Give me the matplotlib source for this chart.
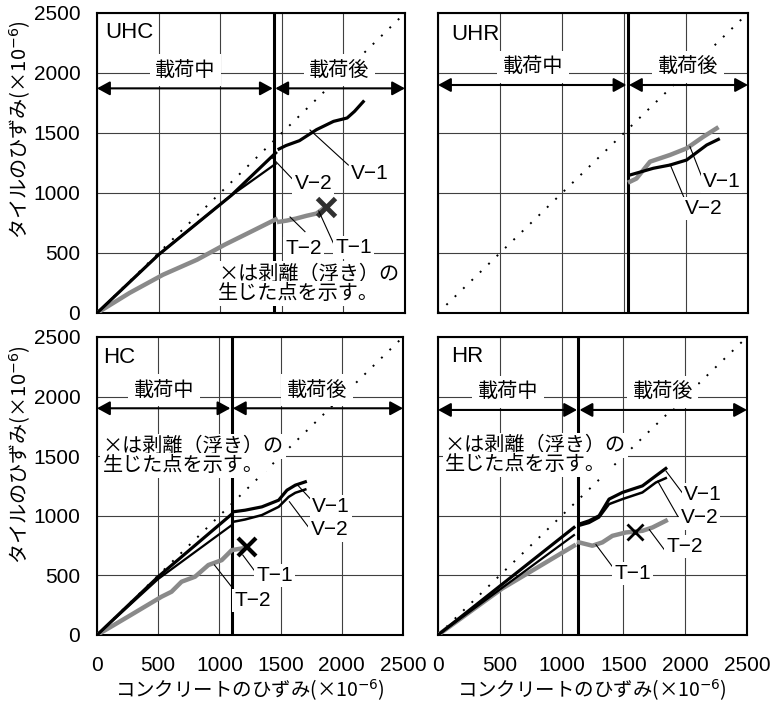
import matplotlib
matplotlib.use("Agg")
import matplotlib.pyplot as plt

plt.rcParams['font.family'] = ['Noto Sans CJK JP', 'DejaVu Sans']
plt.rcParams['mathtext.fontset'] = 'dejavusans'
LATIN = ['Liberation Sans', 'DejaVu Sans']

TICKS = [0, 500, 1000, 1500, 2000, 2500]
NOTE1 = "×は剥離（浮き）の"
NOTE2 = "生じた点を示す。"

# --- UHC ---
uhc_v1_load_x = [0, 500, 1090, 1450]
uhc_v1_load_y = [0, 486, 980, 1334]
uhc_v2_load_x = [0, 500, 1090, 1200, 1450]
uhc_v2_load_y = [0, 486, 980, 1060, 1243]
uhc_v1_post_x = [1478, 1533, 1643, 1782, 1920, 2030, 2090, 2161]
uhc_v1_post_y = [1367, 1395, 1436, 1528, 1597, 1625, 1680, 1761]
uhc_t_load_x = [0, 264, 536, 812, 1036, 1229, 1450]
uhc_t_load_y = [0, 167, 319, 444, 569, 667, 780]
uhc_t_post_x = [1478, 1540, 1616, 1700, 1782, 1837]
uhc_t_post_y = [760, 770, 787, 810, 829, 870]
uhc_peel = (1860, 885)

# --- UHR ---
uhr_v1_x = [1548, 1600, 1710, 1871, 2005, 2140, 2247]
uhr_v1_y = [1094, 1120, 1261, 1317, 1372, 1469, 1539]
uhr_v2_x = [1548, 1736, 1871, 2005, 2167, 2261]
uhr_v2_y = [1150, 1206, 1233, 1275, 1400, 1447]

# --- HC ---
hc_v1_load_x = [0, 500, 1101]
hc_v1_load_y = [0, 489, 1014]
hc_v2_load_x = [0, 500, 1101]
hc_v2_load_y = [0, 470, 922]
hc_v1_post_x = [1115, 1210, 1347, 1484, 1552, 1620, 1702]
hc_v1_post_y = [1034, 1047, 1075, 1131, 1215, 1257, 1285]
hc_v2_post_x = [1115, 1210, 1347, 1484, 1566, 1620, 1702]
hc_v2_post_y = [950, 969, 1006, 1075, 1159, 1193, 1221]
hc_t_x = [0, 254, 527, 609, 691, 801, 910, 1019, 1101, 1183]
hc_t_y = [0, 154, 321, 363, 447, 489, 587, 628, 712, 726]
hc_peel = (1224, 740)

# --- HR ---
hr_v1_load_x = [0, 1100]
hr_v1_load_y = [0, 902]
hr_v2_load_x = [0, 1100]
hr_v2_load_y = [0, 838]
hr_t_load_x = [0, 519, 1100]
hr_t_load_y = [0, 390, 749]
hr_v1_post_x = [1141, 1222, 1303, 1384, 1492, 1654, 1762, 1843]
hr_v1_post_y = [930, 958, 1000, 1140, 1196, 1251, 1335, 1397]
hr_v2_post_x = [1141, 1222, 1303, 1384, 1492, 1654, 1762, 1843]
hr_v2_post_y = [916, 940, 986, 1098, 1140, 1196, 1279, 1316]
hr_t_post_x = [1141, 1249, 1330, 1411, 1519, 1654, 1735, 1843]
hr_t_post_y = [777, 749, 777, 832, 860, 874, 902, 958]
hr_peel = (1592, 866)

GRAY = '#8a8a8a'
BOX = dict(facecolor='white', edgecolor='none', pad=1.5)


def frame(ax, name, boundary, arrow_y, text_y, name_xy):
    ax.set_xlim(0, 2500)
    ax.set_ylim(0, 2500)
    ax.set_xticks(TICKS)
    ax.set_yticks(TICKS)
    ax.grid(True, color='#404040', lw=0.8)
    ax.set_axisbelow(True)
    for s in ax.spines.values():
        s.set_linewidth(1.5)
    ax.tick_params(length=0, labelsize=15)
    ax.tick_params(axis='x', pad=15)
    ax.tick_params(axis='y', pad=12)
    for lbl in ax.get_xticklabels() + ax.get_yticklabels():
        lbl.set_fontfamily(LATIN)
    # diagonal y = x
    ax.plot([0, 2500], [0, 2500], color='black', lw=1.4, ls=(0, (1, 5)), zorder=2)
    ax.axvline(boundary, color='black', lw=2.2, zorder=3)
    arr = dict(arrowstyle='<|-|>,head_length=0.55,head_width=0.3', color='black',
               lw=1.5, shrinkA=0, shrinkB=0, mutation_scale=14)
    ax.annotate('', xy=(0, arrow_y), xytext=(boundary - 10, arrow_y), arrowprops=arr, zorder=4)
    ax.annotate('', xy=(boundary + 10, arrow_y), xytext=(2500, arrow_y), arrowprops=arr, zorder=4)
    ax.text(boundary / 2, text_y, '載荷中', ha='center', va='center', fontsize=14.5,
            bbox=dict(facecolor='white', edgecolor='none', pad=4), zorder=5)
    ax.text((boundary + 2500) / 2, text_y, '載荷後', ha='center', va='center', fontsize=14.5,
            bbox=dict(facecolor='white', edgecolor='none', pad=4), zorder=5)
    ax.text(name_xy[0], name_xy[1], name, transform=ax.transAxes, ha='left', va='center',
            fontsize=16, family=LATIN, zorder=5)


def tag(ax, label, xy, start, end):
    ax.plot([start[0], end[0]], [start[1], end[1]], color='black', lw=0.8, zorder=6)
    ax.text(xy[0], xy[1], label, ha='center', va='center', fontsize=15, family=LATIN,
            bbox=BOX, zorder=7)


def note(ax, x, y1, y2):
    ax.text(x, y1, NOTE1, ha='left', va='center', fontsize=14.5, bbox=BOX, zorder=5)
    ax.text(x, y2, NOTE2, ha='left', va='center', fontsize=14.5, bbox=BOX, zorder=5)


fig = plt.figure(figsize=(7.71, 7.08), dpi=100)
W, H = 771, 708
ax_uhc = fig.add_axes([97 / W, 1 - 313 / H, 308 / W, 300 / H])
ax_uhr = fig.add_axes([438 / W, 1 - 313 / H, 310 / W, 300 / H])
ax_hc = fig.add_axes([97 / W, 1 - 635 / H, 306 / W, 298 / H])
ax_hr = fig.add_axes([438 / W, 1 - 635 / H, 309 / W, 298 / H])

# UHC
ax = ax_uhc
frame(ax, 'UHC', 1437, 1872, 2025, (0.026, 0.935))
ax.plot(uhc_t_load_x, uhc_t_load_y, color=GRAY, lw=3.2, zorder=4)
ax.plot(uhc_t_post_x, uhc_t_post_y, color=GRAY, lw=3.2, zorder=4)
ax.plot(uhc_v2_load_x, uhc_v2_load_y, color='black', lw=1.6, zorder=5)
ax.plot(uhc_v1_load_x, uhc_v1_load_y, color='black', lw=2.3, zorder=5)
ax.plot(uhc_v1_post_x, uhc_v1_post_y, color='black', lw=2.3, zorder=5)
ax.plot(*uhc_peel, marker='x', color='#303030', ms=13, mew=3.5, zorder=6)
tag(ax, 'V−1', (2216, 1164), (2040, 1233), (1729, 1525))
tag(ax, 'V−2', (1756, 1081), (1594, 1108), (1426, 1290))
tag(ax, 'T−2', (1675, 539), (1688, 678), (1567, 800))
tag(ax, 'T−1', (2081, 547), (1919, 581), (1800, 850))
note(ax, 985, 325, 164)
ax.tick_params(labelbottom=False)

# UHR
ax = ax_uhr
frame(ax, 'UHR', 1530, 1900, 2053, (0.044, 0.93))
ax.plot(uhr_v1_x, uhr_v1_y, color=GRAY, lw=3.2, zorder=4)
ax.plot(uhr_v2_x, uhr_v2_y, color='black', lw=2.3, zorder=5)
tag(ax, 'V−1', (2286, 1094), (2153, 1067), (2032, 1386))
tag(ax, 'V−2', (2140, 872), (1992, 942), (1871, 1240))
ax.tick_params(labelbottom=False, labelleft=False)

# HC
ax = ax_hc
frame(ax, 'HC', 1100, 1902, 2055, (0.02, 0.931))
ax.plot(hc_t_x, hc_t_y, color=GRAY, lw=3.2, zorder=4)
ax.plot(hc_v2_load_x, hc_v2_load_y, color='black', lw=1.6, zorder=5)
ax.plot(hc_v1_load_x, hc_v1_load_y, color='black', lw=2.3, zorder=5)
ax.plot(hc_v1_post_x, hc_v1_post_y, color='black', lw=2.3, zorder=5)
ax.plot(hc_v2_post_x, hc_v2_post_y, color='black', lw=1.8, zorder=5)
ax.plot(*hc_peel, marker='x', color='black', ms=13, mew=3, zorder=6)
tag(ax, 'V−1', (1912, 1076), (1789, 1091), (1639, 1258))
tag(ax, 'V−2', (1898, 881), (1735, 895), (1572, 1118))
tag(ax, 'T−1', (1449, 498), (1313, 503), (1191, 671))
tag(ax, 'T−2', (1272, 288), (1109, 392), (960, 587))
note(ax, 45, 1580, 1419)

# HR
ax = ax_hr
frame(ax, 'HR', 1135, 1888, 2041, (0.044, 0.936))
ax.plot(hr_t_load_x, hr_t_load_y, color=GRAY, lw=3.2, zorder=4)
ax.plot(hr_t_post_x, hr_t_post_y, color=GRAY, lw=3.2, zorder=4)
ax.plot(hr_v2_load_x, hr_v2_load_y, color='black', lw=1.6, zorder=5)
ax.plot(hr_v1_load_x, hr_v1_load_y, color='black', lw=2.3, zorder=5)
ax.plot(hr_v1_post_x, hr_v1_post_y, color='black', lw=2.3, zorder=5)
ax.plot(hr_v2_post_x, hr_v2_post_y, color='black', lw=1.8, zorder=5)
ax.plot(*hr_peel, marker='x', color='black', ms=12, mew=2, zorder=6)
tag(ax, 'V−1', (2143, 1178), (2007, 1151), (1845, 1375))
tag(ax, 'V−2', (2115, 982), (1940, 996), (1778, 1290))
tag(ax, 'T−2', (1993, 743), (1872, 659), (1710, 884))
tag(ax, 'T−1', (1575, 519), (1440, 533), (1278, 758))
note(ax, 55, 1590, 1430)
ax.tick_params(labelleft=False)

ylab = 'タイルのひずみ(×10$^{-6}$)'
xlab = 'コンクリートのひずみ(×10$^{-6}$)'
fig.text(20 / W, 1 - 130 / H, ylab, rotation=90, ha='center', va='center', fontsize=14.5)
fig.text(20 / W, 1 - 455 / H, ylab, rotation=90, ha='center', va='center', fontsize=14.5)
fig.text(250 / W, 1 - 690 / H, xlab, ha='center', va='center', fontsize=14)
fig.text(592 / W, 1 - 690 / H, xlab, ha='center', va='center', fontsize=14)

fig.savefig('out.png', dpi=100)
